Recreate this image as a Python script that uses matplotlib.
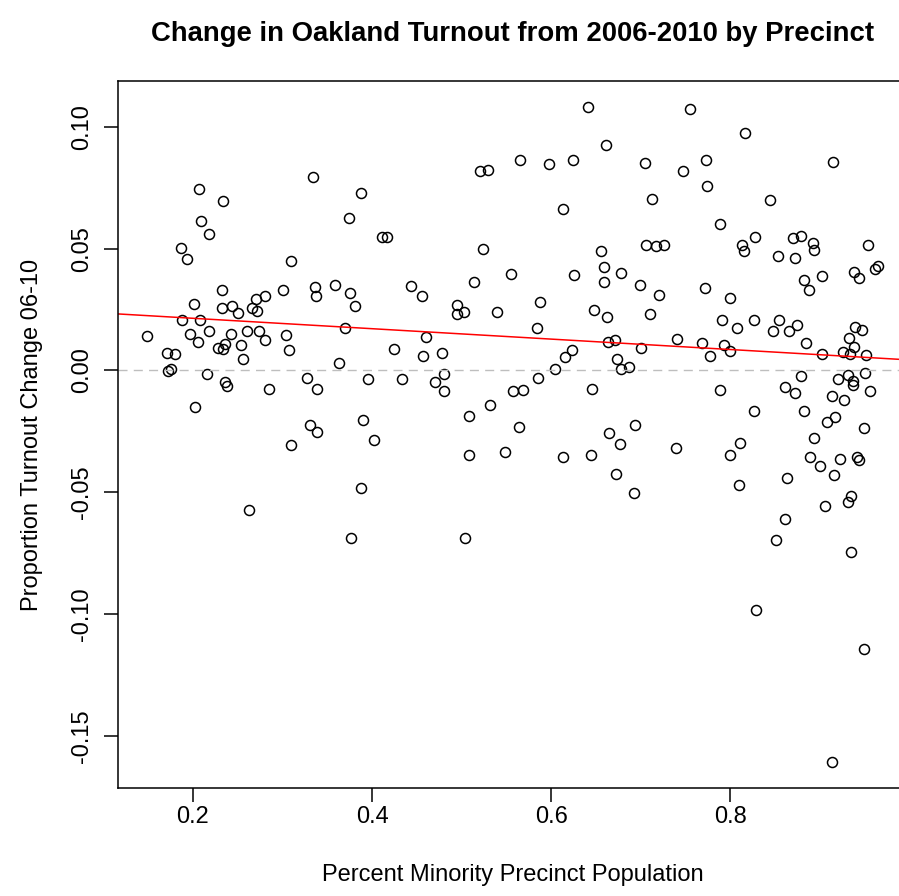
import numpy as np
import matplotlib
matplotlib.use("Agg")
import matplotlib.pyplot as plt

plt.rcParams['font.family'] = ['Liberation Sans', 'DejaVu Sans']

# percent minority population of each precinct
pct_minority = [
    0.334, 0.207, 0.234, 0.209, 0.218, 0.187, 0.193, 0.309, 0.232, 0.301, 0.336,
    0.337, 0.281, 0.270, 0.201, 0.232, 0.244, 0.250, 0.266, 0.271, 0.188, 0.208,
    0.149, 0.197, 0.218, 0.242, 0.260, 0.274, 0.304, 0.206, 0.171, 0.180, 0.228,
    0.234, 0.236, 0.254, 0.281, 0.256, 0.307, 0.172, 0.176, 0.216, 0.236, 0.238,
    0.285, 0.327, 0.338, 0.202, 0.331, 0.338, 0.310, 0.263,
    0.520, 0.529, 0.388, 0.374, 0.411, 0.417, 0.524, 0.555, 0.514, 0.359, 0.375,
    0.443, 0.456, 0.381, 0.495, 0.495, 0.503, 0.540, 0.370,
    0.460, 0.424, 0.457, 0.478, 0.363, 0.480, 0.395, 0.434, 0.470, 0.480, 0.557,
    0.532, 0.508, 0.390, 0.402, 0.564, 0.508, 0.548, 0.388, 0.377, 0.504,
    0.641, 0.755, 0.661, 0.565, 0.598, 0.624, 0.705, 0.773, 0.747, 0.774, 0.713,
    0.613, 0.789, 0.706, 0.717, 0.726, 0.656, 0.659, 0.678, 0.626, 0.659, 0.699,
    0.720, 0.772, 0.588, 0.648, 0.662, 0.710, 0.584,
    0.664, 0.671, 0.740, 0.768, 0.623, 0.615, 0.700, 0.674, 0.777, 0.604, 0.678,
    0.687, 0.585, 0.569, 0.646, 0.788, 0.694, 0.665, 0.677, 0.739, 0.613, 0.645,
    0.672, 0.693,
    0.816, 0.915, 0.844, 0.828, 0.813, 0.815, 0.870, 0.879, 0.892, 0.893, 0.954,
    0.853, 0.872, 0.938, 0.944, 0.961, 0.965, 0.882, 0.902, 0.888, 0.800, 0.791,
    0.808, 0.826, 0.854, 0.874, 0.848, 0.865, 0.939, 0.947,
    0.933, 0.885, 0.938, 0.793, 0.800, 0.902, 0.926, 0.934, 0.951, 0.879, 0.950,
    0.920, 0.931, 0.937, 0.937, 0.861, 0.872, 0.913, 0.927, 0.956, 0.826, 0.882,
    0.908, 0.917, 0.949, 0.893, 0.811, 0.800, 0.889, 0.900, 0.923, 0.941, 0.944,
    0.916, 0.810, 0.863, 0.935, 0.931, 0.906, 0.861, 0.851, 0.935,
    0.829, 0.949, 0.914,
]

# change in turnout proportion 2006 -> 2010
turnout_change = [
    0.0796, 0.0745, 0.0695, 0.0613, 0.0562, 0.0501, 0.0457, 0.0450, 0.0331, 0.0331, 0.0343,
    0.0306, 0.0306, 0.0293, 0.0273, 0.0257, 0.0263, 0.0235, 0.0255, 0.0246, 0.0209, 0.0209,
    0.0141, 0.0149, 0.0163, 0.0149, 0.0161, 0.0161, 0.0147, 0.0116, 0.0070, 0.0067, 0.0094,
    0.0090, 0.0108, 0.0105, 0.0126, 0.0049, 0.0083, -0.0002, 0.0007, -0.0016, -0.0049, -0.0063,
    -0.0077, -0.0032, -0.0077, -0.0149, -0.0225, -0.0252, -0.0308, -0.0573,
    0.0818, 0.0825, 0.0729, 0.0626, 0.0548, 0.0548, 0.0497, 0.0394, 0.0365, 0.0351, 0.0317,
    0.0346, 0.0304, 0.0265, 0.0269, 0.0231, 0.0238, 0.0242, 0.0174,
    0.0137, 0.0090, 0.0059, 0.0072, 0.0030, -0.0015, -0.0036, -0.0034, -0.0048, -0.0086, -0.0086,
    -0.0140, -0.0186, -0.0204, -0.0287, -0.0234, -0.0349, -0.0335, -0.0484, -0.0686, -0.0686,
    0.1081, 0.1073, 0.0925, 0.0865, 0.0846, 0.0863, 0.0851, 0.0865, 0.0821, 0.0758, 0.0702,
    0.0661, 0.0603, 0.0516, 0.0510, 0.0514, 0.0489, 0.0423, 0.0401, 0.0391, 0.0362, 0.0351,
    0.0308, 0.0339, 0.0283, 0.0250, 0.0220, 0.0230, 0.0174,
    0.0116, 0.0124, 0.0128, 0.0113, 0.0083, 0.0056, 0.0093, 0.0045, 0.0059, 0.0008, 0.0005,
    0.0016, -0.0030, -0.0081, -0.0077, -0.0081, -0.0226, -0.0256, -0.0304, -0.0318, -0.0356, -0.0346,
    -0.0427, -0.0502,
    0.0974, 0.0855, 0.0698, 0.0547, 0.0516, 0.0490, 0.0543, 0.0551, 0.0523, 0.0493, 0.0517,
    0.0469, 0.0462, 0.0404, 0.0380, 0.0415, 0.0428, 0.0372, 0.0387, 0.0330, 0.0298, 0.0209,
    0.0174, 0.0209, 0.0209, 0.0186, 0.0161, 0.0161, 0.0178, 0.0165,
    0.0135, 0.0113, 0.0097, 0.0103, 0.0079, 0.0066, 0.0075, 0.0067, 0.0063, -0.0022, -0.0010,
    -0.0036, -0.0018, -0.0044, -0.0060, -0.0067, -0.0093, -0.0106, -0.0122, -0.0086, -0.0167, -0.0167,
    -0.0213, -0.0193, -0.0237, -0.0277, -0.0296, -0.0349, -0.0355, -0.0393, -0.0365, -0.0355, -0.0368,
    -0.0429, -0.0472, -0.0442, -0.0516, -0.0541, -0.0556, -0.0610, -0.0695, -0.0747,
    -0.0984, -0.1144, -0.1607,
]

x_ticks = [0.2, 0.4, 0.6, 0.8]
y_ticks = [-0.15, -0.10, -0.05, 0.00, 0.05, 0.10]

x = np.array(pct_minority)
y = np.array(turnout_change)

fig = plt.figure(figsize=(8.99, 8.96), dpi=100)
# axes runs a bit past the right edge, like the cropped original
ax = fig.add_axes([118 / 899, 108 / 896, 0.878, 707 / 896])

ax.plot(x, y, 'o', mfc='none', mec='black', ms=7.2, mew=1.1, linestyle='none')

# regression line (lm fit)
slope, intercept = np.polyfit(x, y, 1)
xs = np.array([0.0, 1.2])
ax.plot(xs, intercept + slope * xs, color='#ff0000', lw=1.1)

ax.axhline(0, color='#bebebe', lw=1.0, linestyle=(0, (6.5, 4.5)))

# R style 4% padding
xpad = 0.04 * (x.max() - x.min())
ypad = 0.04 * (y.max() - y.min())
ax.set_xlim(x.min() - xpad, x.max() + xpad)
ax.set_ylim(y.min() - ypad, y.max() + ypad)

ax.set_xticks(x_ticks)
ax.set_xticklabels([f"{v:.1f}" for v in x_ticks])
ax.set_yticks(y_ticks)
ax.set_yticklabels([f"{v:.2f}" for v in y_ticks], rotation=90, va='center')

ax.tick_params(axis='both', direction='out', length=10, width=1.1, labelsize=17, color='black')
ax.tick_params(axis='x', pad=3)
ax.tick_params(axis='y', pad=8)
for s in ax.spines.values():
    s.set_linewidth(1.1)

ax.set_xlabel("Percent Minority Precinct Population", fontsize=17)
ax.xaxis.set_label_coords(0.5, -0.123)
ax.xaxis.label.set_va('center')
ax.set_ylabel("Proportion Turnout Change 06-10", fontsize=17)
ax.yaxis.set_label_coords(-0.109, 0.5)
ax.yaxis.label.set_va('center')

ax.text(0.5, 1.066, "Change in Oakland Turnout from 2006-2010 by Precinct",
        transform=ax.transAxes, ha='center', va='center', fontsize=19.8, fontweight='bold')

fig.savefig("out.png", dpi=100)
